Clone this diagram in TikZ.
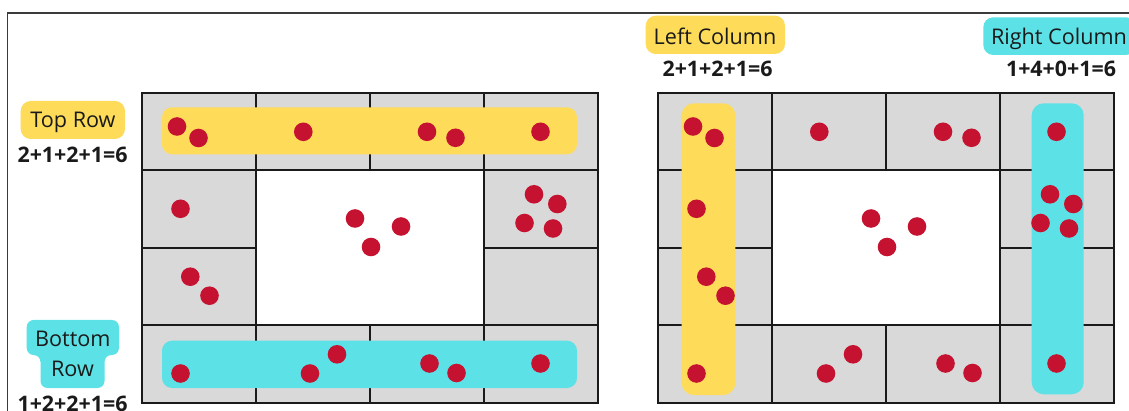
\documentclass[tikz,border=0pt]{standalone}
\usepackage{fontspec}
\setmainfont{Open Sans}
\definecolor{ylw}{HTML}{FEDC5A}
\definecolor{cyn}{HTML}{5CE1E6}
\definecolor{dotred}{HTML}{C41230}
\definecolor{cellgray}{HTML}{D9D9D9}
\definecolor{ink}{HTML}{1A1A1A}
\definecolor{framec}{HTML}{3A3A3A}
\tikzset{
  gridline/.style={draw=ink, line width=2pt},
  lbl/.style={anchor=base, inner sep=0pt, text=ink, font=\fontsize{21.6}{24}\selectfont},
  eqn/.style={anchor=base, inner sep=0pt, text=ink, font=\fontsize{21.4}{24}\selectfont\bfseries},
  dot/.style={fill=dotred},
}
\begin{document}
\begin{tikzpicture}[x=1pt, y=-1pt]
\useasboundingbox (0,0) rectangle (1129,411);
\fill[white] (0,0) rectangle (1129,411);
% frame
\draw[framec, line width=1.5pt] (7.5,411) -- (7.5,13) -- (1129,13);
% grids
\foreach \ox in {0,516} {
  \begin{scope}[shift={(\ox,0)}]
    \fill[cellgray] (142,93) rectangle (598,403);
    \fill[white] (256,170) rectangle (484,325);
    \draw[gridline] (142,170) -- (598,170);
    \draw[gridline] (142,325) -- (598,325);
    \draw[gridline] (142,248) -- (256,248);
    \draw[gridline] (484,248) -- (598,248);
    \draw[gridline] (256,93) -- (256,403);
    \draw[gridline] (484,93) -- (484,403);
    \draw[gridline] (370,93) -- (370,170);
    \draw[gridline] (370,325) -- (370,403);
    \draw[gridline, line width=2.5pt] (142,93) rectangle (598,403);
  \end{scope}
}
% bands
\fill[ylw, rounded corners=10pt] (162,107.3) rectangle (577,154.3);
\fill[cyn, rounded corners=10pt] (162,340.7) rectangle (577,388);
\fill[ylw, rounded corners=12pt] (681.7,103.3) rectangle (735.3,395);
\fill[cyn, rounded corners=12pt] (1031.7,103.3) rectangle (1083.7,394.3);
% dots
\foreach \ox in {0,516} {
  \foreach \x/\y in {177/126.5, 198.5/138, 303.3/131.8, 427/131.8, 455.5/137.8, 540.5/131.8,
                     180.5/208.8, 190.3/276.7, 209.5/295.7,
                     355/218.5, 401/226.5, 371/247,
                     534/194.3, 557.3/204, 524.5/223, 553/228.5,
                     180.5/373.5, 310/373.5, 337/354.3, 429.5/363.5, 456.5/373, 540.5/363.5}
    \fill[dot] (\x+\ox,\y) circle (9.3);
}
% label boxes
\fill[ylw, rounded corners=10pt] (20.7,101) rectangle (125,139);
\fill[cyn, rounded corners=7pt] (26.7,320) -- (119,320) -- (119,355) -- (104.5,355) -- (104.5,388) -- (40.5,388) -- (40.5,355) -- (26.7,355) -- cycle;
\fill[ylw, rounded corners=10pt] (645.7,15.7) rectangle (785,54);
\fill[cyn, rounded corners=10pt] (983.3,17.3) rectangle (1136,55);
% texts
\node[lbl] (toprow) at (73,127.3) {Top Row};
\node[eqn] (topeq) at (72.5,162.7) {2+1+2+1=6};
\node[lbl] (bottom1) at (72.8,346.7) {Bottom};
\node[lbl] (bottom2) at (72.5,376.7) {Row};
\node[eqn] (boteq) at (72.5,411) {1+2+2+1=6};
\node[lbl] (leftcol) at (715,44.3) {Left Column};
\node[eqn] (lefteq) at (717.5,76.7) {2+1+2+1=6};
\node[lbl] (rightcol) at (1059,44.3) {Right Column};
\node[eqn] (righteq) at (1061,76.7) {1+4+0+1=6};
\end{tikzpicture}
\end{document}
